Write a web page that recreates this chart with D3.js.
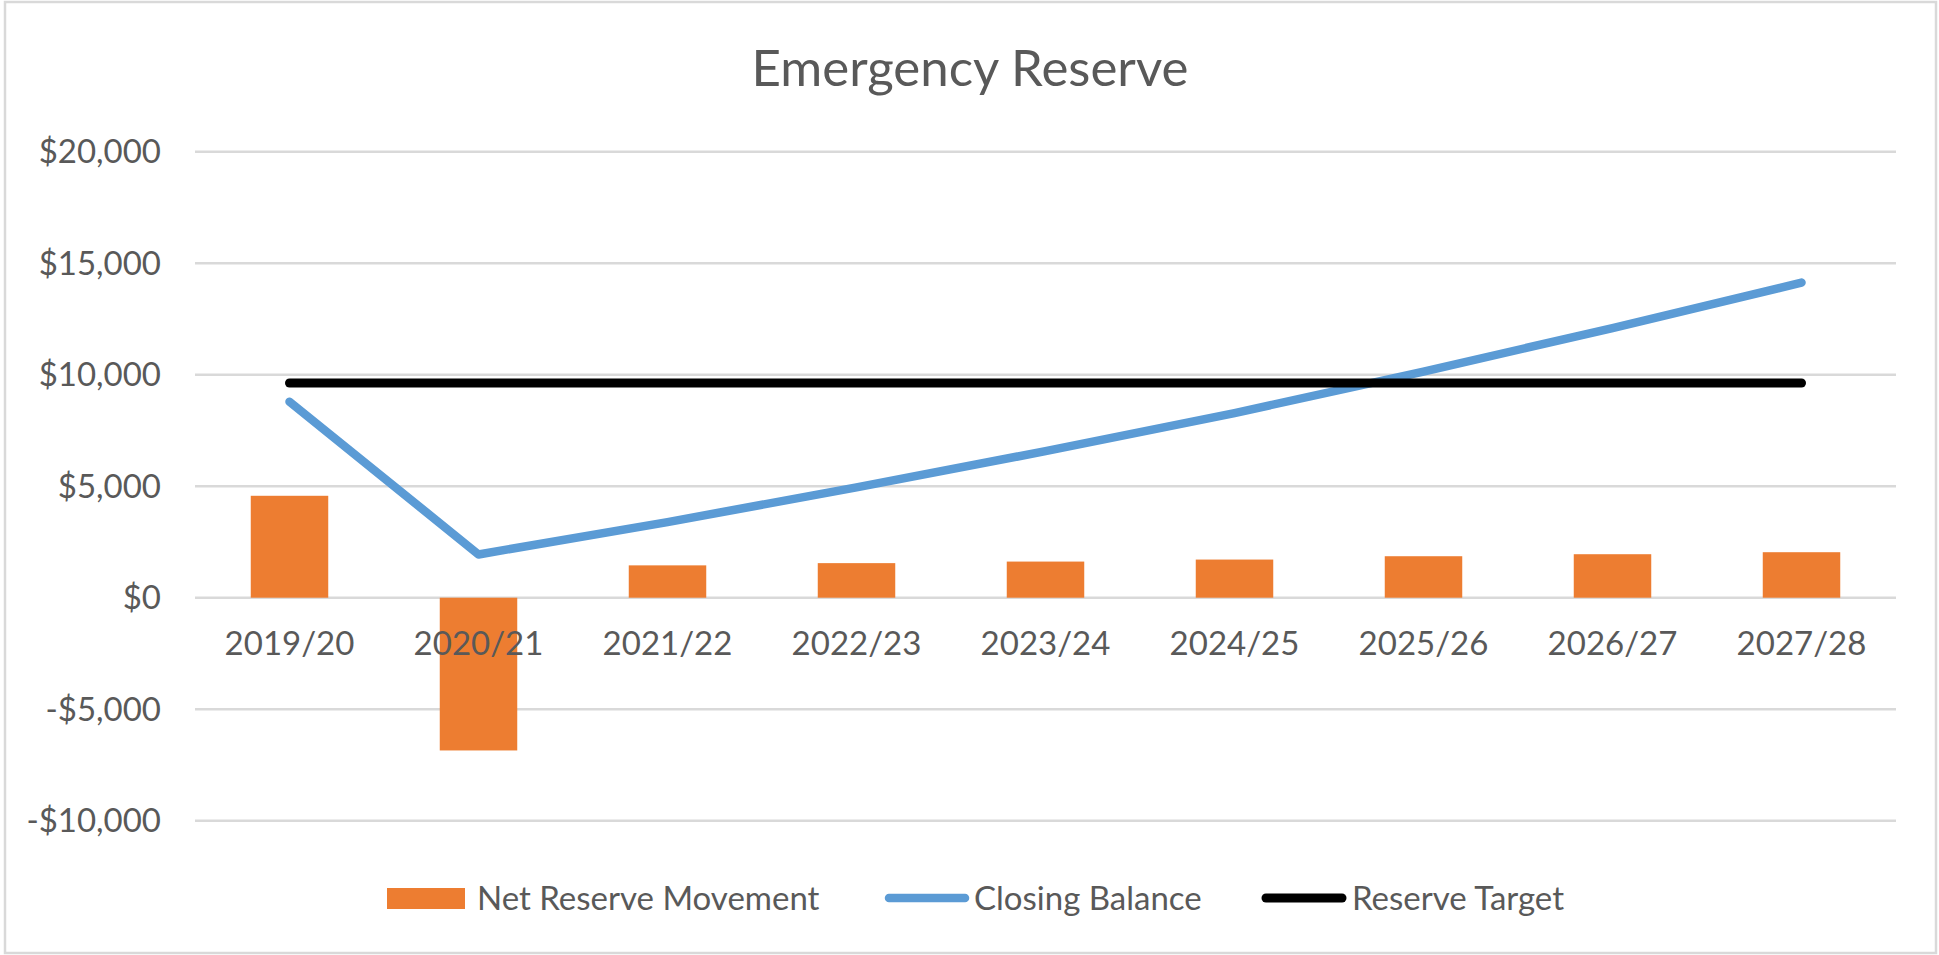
<!DOCTYPE html>
<html>
<head>
<meta charset="utf-8">
<script src="https://cdn.jsdelivr.net/npm/d3@7"></script>
<style>
  html, body { margin: 0; padding: 0; background: #fff; }
  svg { display: block; }
</style>
</head>
<body>
<div id="chart"></div>
<script>
// Emergency Reserve chart data
var categories = ['2019/20', '2020/21', '2021/22', '2022/23', '2023/24', '2024/25', '2025/26', '2026/27', '2027/28'];
var netMovement = [4570, -6850, 1450, 1550, 1620, 1710, 1860, 1950, 2040];
var closingBalance = [8790, 1940, 3390, 4950, 6570, 8280, 10140, 12090, 14130];
var reserveTarget = [9630, 9630, 9630, 9630, 9630, 9630, 9630, 9630, 9630];
var yTicks = [-10000, -5000, 0, 5000, 10000, 15000, 20000];
var seriesNames = ['Net Reserve Movement', 'Closing Balance', 'Reserve Target'];

var W = 1939, H = 955;
var textColor = '#595959';
var gridColor = '#d9d9d9';
var orange = '#ed7d31', blue = '#5b9bd5';
var font = 'Lato, "Open Sans", sans-serif';
var fs = '33px';

var svg = d3.select('#chart').append('svg').attr('width', W).attr('height', H);

// Chart area border
svg.append('rect').attr('x', 5).attr('y', 2).attr('width', W - 8).attr('height', H - 4)
  .attr('fill', '#fff').attr('stroke', gridColor).attr('stroke-width', 2.5);

var x = d3.scaleBand().domain(categories).range([195, 1896]).padding(0);
var y = d3.scaleLinear().domain([-10000, 20000]).range([820.7, 151.7]);
var cx = function(d) { return x(d) + x.bandwidth() / 2; };

// Grid lines
svg.append('g').selectAll('line').data(yTicks).enter().append('line')
  .attr('x1', x.range()[0]).attr('x2', x.range()[1])
  .attr('y1', function(d) { return y(d); }).attr('y2', function(d) { return y(d); })
  .attr('stroke', gridColor).attr('stroke-width', 2.5);

// Y axis labels
var fmt = function(v) { return (v < 0 ? '-$' : '$') + d3.format(',')(Math.abs(v)); };
svg.append('g').selectAll('text').data(yTicks).enter().append('text')
  .attr('x', 161).attr('y', function(d) { return y(d) + 11.5; })
  .attr('text-anchor', 'end').attr('fill', textColor)
  .attr('font-family', font).attr('font-size', fs)
  .text(fmt);

// Bars
var barW = x.bandwidth() * 0.41;
svg.append('g').selectAll('rect').data(categories).enter().append('rect')
  .attr('x', function(d) { return cx(d) - barW / 2; })
  .attr('y', function(d, i) { return y(Math.max(0, netMovement[i])); })
  .attr('width', barW)
  .attr('height', function(d, i) { return Math.abs(y(netMovement[i]) - y(0)); })
  .attr('fill', orange);

// X axis labels
svg.append('g').selectAll('text').data(categories).enter().append('text')
  .attr('x', cx).attr('y', 655)
  .attr('text-anchor', 'middle').attr('fill', textColor)
  .attr('font-family', font).attr('font-size', fs)
  .text(function(d) { return d; });

// Lines
var line = d3.line().x(function(d, i) { return cx(categories[i]); }).y(function(d) { return y(d); });
svg.append('path').datum(closingBalance).attr('d', line)
  .attr('fill', 'none').attr('stroke', blue).attr('stroke-width', 8.5)
  .attr('stroke-linecap', 'round').attr('stroke-linejoin', 'round');
svg.append('path').datum(reserveTarget).attr('d', line)
  .attr('fill', 'none').attr('stroke', '#000').attr('stroke-width', 9)
  .attr('stroke-linecap', 'round').attr('stroke-linejoin', 'round');

// Title
svg.append('text').attr('x', 970).attr('y', 86).attr('text-anchor', 'middle')
  .attr('fill', textColor).attr('font-family', font).attr('font-size', '51px')
  .text('Emergency Reserve');

// Legend
var legendY = 898;
var lg = svg.append('g');
lg.append('rect').attr('x', 387).attr('y', legendY - 10).attr('width', 78).attr('height', 21).attr('fill', orange);
lg.append('text').attr('x', 477).attr('y', legendY + 12).attr('fill', textColor)
  .attr('font-family', font).attr('font-size', fs).text(seriesNames[0]);
lg.append('line').attr('x1', 889).attr('x2', 965).attr('y1', legendY).attr('y2', legendY)
  .attr('stroke', blue).attr('stroke-width', 8.5).attr('stroke-linecap', 'round');
lg.append('text').attr('x', 974).attr('y', legendY + 12).attr('fill', textColor)
  .attr('font-family', font).attr('font-size', fs).text(seriesNames[1]);
lg.append('line').attr('x1', 1266).attr('x2', 1342).attr('y1', legendY).attr('y2', legendY)
  .attr('stroke', '#000').attr('stroke-width', 9).attr('stroke-linecap', 'round');
lg.append('text').attr('x', 1352).attr('y', legendY + 12).attr('fill', textColor)
  .attr('font-family', font).attr('font-size', fs).text(seriesNames[2]);
</script>
</body>
</html>
